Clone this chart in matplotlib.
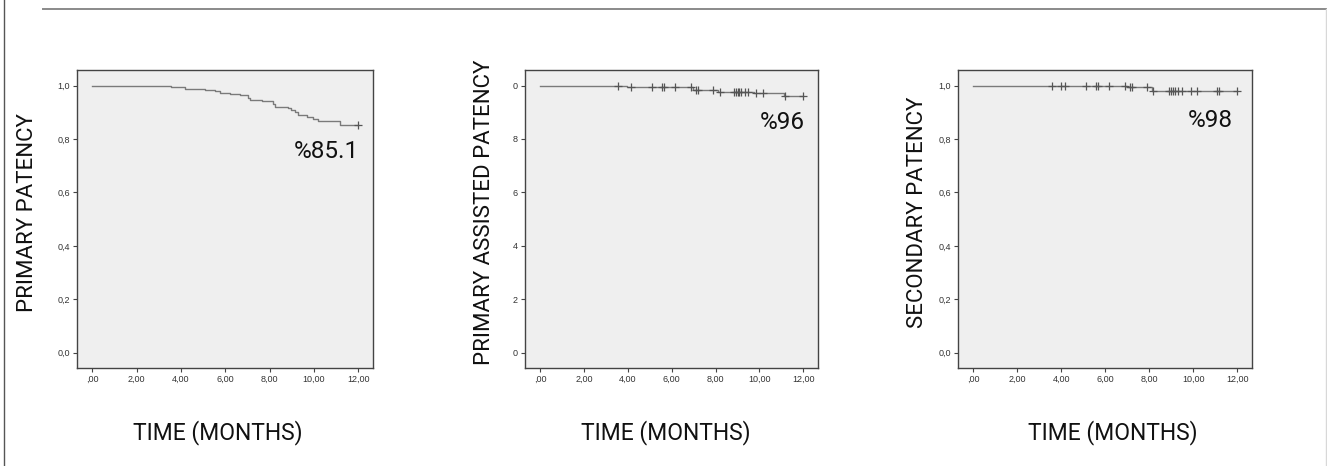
import numpy as np
import matplotlib.pyplot as plt
from matplotlib.lines import Line2D

# primary patency (kaplan-meier steps, months / survival after step)
pp_times = [0, 3.55, 3.96, 4.18, 5.08, 5.53, 5.76, 6.21, 6.66, 7.04, 7.11, 7.64,
            8.17, 8.24, 8.84, 8.99, 9.14, 9.29, 9.67, 9.97, 10.19, 11.17]
pp_surv = [1.0, 0.996, 0.993, 0.988, 0.984, 0.978, 0.972, 0.969, 0.965, 0.955, 0.945, 0.943,
           0.930, 0.919, 0.916, 0.907, 0.899, 0.890, 0.884, 0.876, 0.866, 0.851]
pp_censor = [12.0]

# primary assisted patency
pap_times = [0, 3.94, 6.97, 8.10, 9.77, 11.14]
pap_surv = [1.0, 0.994, 0.985, 0.976, 0.972, 0.961]
pap_censor = [3.56, 4.14, 5.08, 5.56, 5.65, 6.17, 6.86, 7.12, 7.20, 7.88, 8.18, 8.86, 8.94,
              9.01, 9.09, 9.17, 9.32, 9.47, 9.85, 10.15, 11.18, 12.0]

# secondary patency
sp_times = [0, 6.98, 8.12]
sp_surv = [1.0, 0.993, 0.981]
sp_censor = [3.60, 3.98, 4.17, 5.12, 5.58, 5.69, 6.19, 6.88, 7.13, 7.20, 7.89, 8.19, 8.88,
             8.98, 9.08, 9.18, 9.29, 9.50, 9.89, 10.18, 11.08, 11.18, 12.0]

x_ticks = [0, 2, 4, 6, 8, 10, 12]
x_ticklabels = [",00", "2,00", "4,00", "6,00", "8,00", "10,00", "12,00"]
y_ticks = [0.0, 0.2, 0.4, 0.6, 0.8, 1.0]
y_ticklabels = ["0,0", "0,2", "0,4", "0,6", "0,8", "1,0"]
y_ticklabels_cut = ["0", "2", "4", "6", "8", "0"]

ylabels = ["PRIMARY PATENCY", "PRIMARY ASSISTED PATENCY", "SECONDARY PATENCY"]
notes = ["%85.1", "%96", "%98"]
note_pos = [(12.03, 0.752), (12.05, 0.862), (11.78, 0.869)]

big_font = ["Roboto", "DejaVu Sans"]

fig = plt.figure(figsize=(13.27, 4.66), dpi=100)

# frame lines from the page
fig.add_artist(Line2D([4 / 1327, 4 / 1327], [0, 1], color="#555555", lw=1.0))
fig.add_artist(Line2D([43 / 1327, 1], [1 - 8.5 / 466, 1 - 8.5 / 466], color="#8a8a8a", lw=1.4))
fig.add_artist(Line2D([1326 / 1327, 1326 / 1327], [0, 1 - 8.5 / 466], color="#d8d8d8", lw=1.0))

positions = [[77 / 1327, 98 / 466, 296 / 1327, 298 / 466],
             [525 / 1327, 98 / 466, 293 / 1327, 298 / 466],
             [958 / 1327, 98 / 466, 294 / 1327, 298 / 466]]
ylab_x = [-0.166, -0.137, -0.139]
xlab_x = [0.477, 0.480, 0.527]

series = [(pp_times, pp_surv, pp_censor),
          (pap_times, pap_surv, pap_censor),
          (sp_times, sp_surv, sp_censor)]

for k in range(3):
    ax = fig.add_axes(positions[k])
    ax.set_facecolor("#efefef")
    t, s, c = series[k]
    tt = list(t) + [12.0]
    ss = list(s) + [s[-1]]
    ax.step(tt, ss, where="post", color="#7a7a7a", lw=1.0)
    # censor marks sit on the curve
    idx = np.searchsorted(np.array(t), np.array(c), side="right") - 1
    cy = np.array(s)[idx]
    ax.plot(c, cy, linestyle="none", marker="+", markersize=5.5, color="#555555", mew=0.9)

    ax.set_xlim(-0.69, 12.67)
    ax.set_ylim(-0.057, 1.058)
    ax.set_xticks(x_ticks)
    ax.set_xticklabels(x_ticklabels)
    ax.set_yticks(y_ticks)
    if k == 1:
        ax.set_yticklabels(y_ticklabels_cut)
    else:
        ax.set_yticklabels(y_ticklabels)
    ax.tick_params(direction="out", length=3, width=0.8, color="#444444",
                   labelsize=6.5, labelcolor="#333333", pad=2)
    for lab in ax.get_xticklabels() + ax.get_yticklabels():
        lab.set_family("Liberation Sans")
    for sp in ax.spines.values():
        sp.set_color("#444444")
        sp.set_linewidth(1.0)

    ax.set_ylabel(ylabels[k], fontsize=16, family=big_font, color="#111111")
    ax.yaxis.set_label_coords(ylab_x[k], 0.523)
    ax.yaxis.label.set_va("center")
    ax.set_xlabel("TIME (MONTHS)", fontsize=16.5, family=big_font, color="#111111")
    ax.xaxis.set_label_coords(xlab_x[k], -0.215)
    ax.xaxis.label.set_va("center")

    ax.text(note_pos[k][0], note_pos[k][1], notes[k], ha="right", va="center",
            fontsize=17.5, family=big_font, color="#111111")

plt.savefig("out.png", dpi=100)
